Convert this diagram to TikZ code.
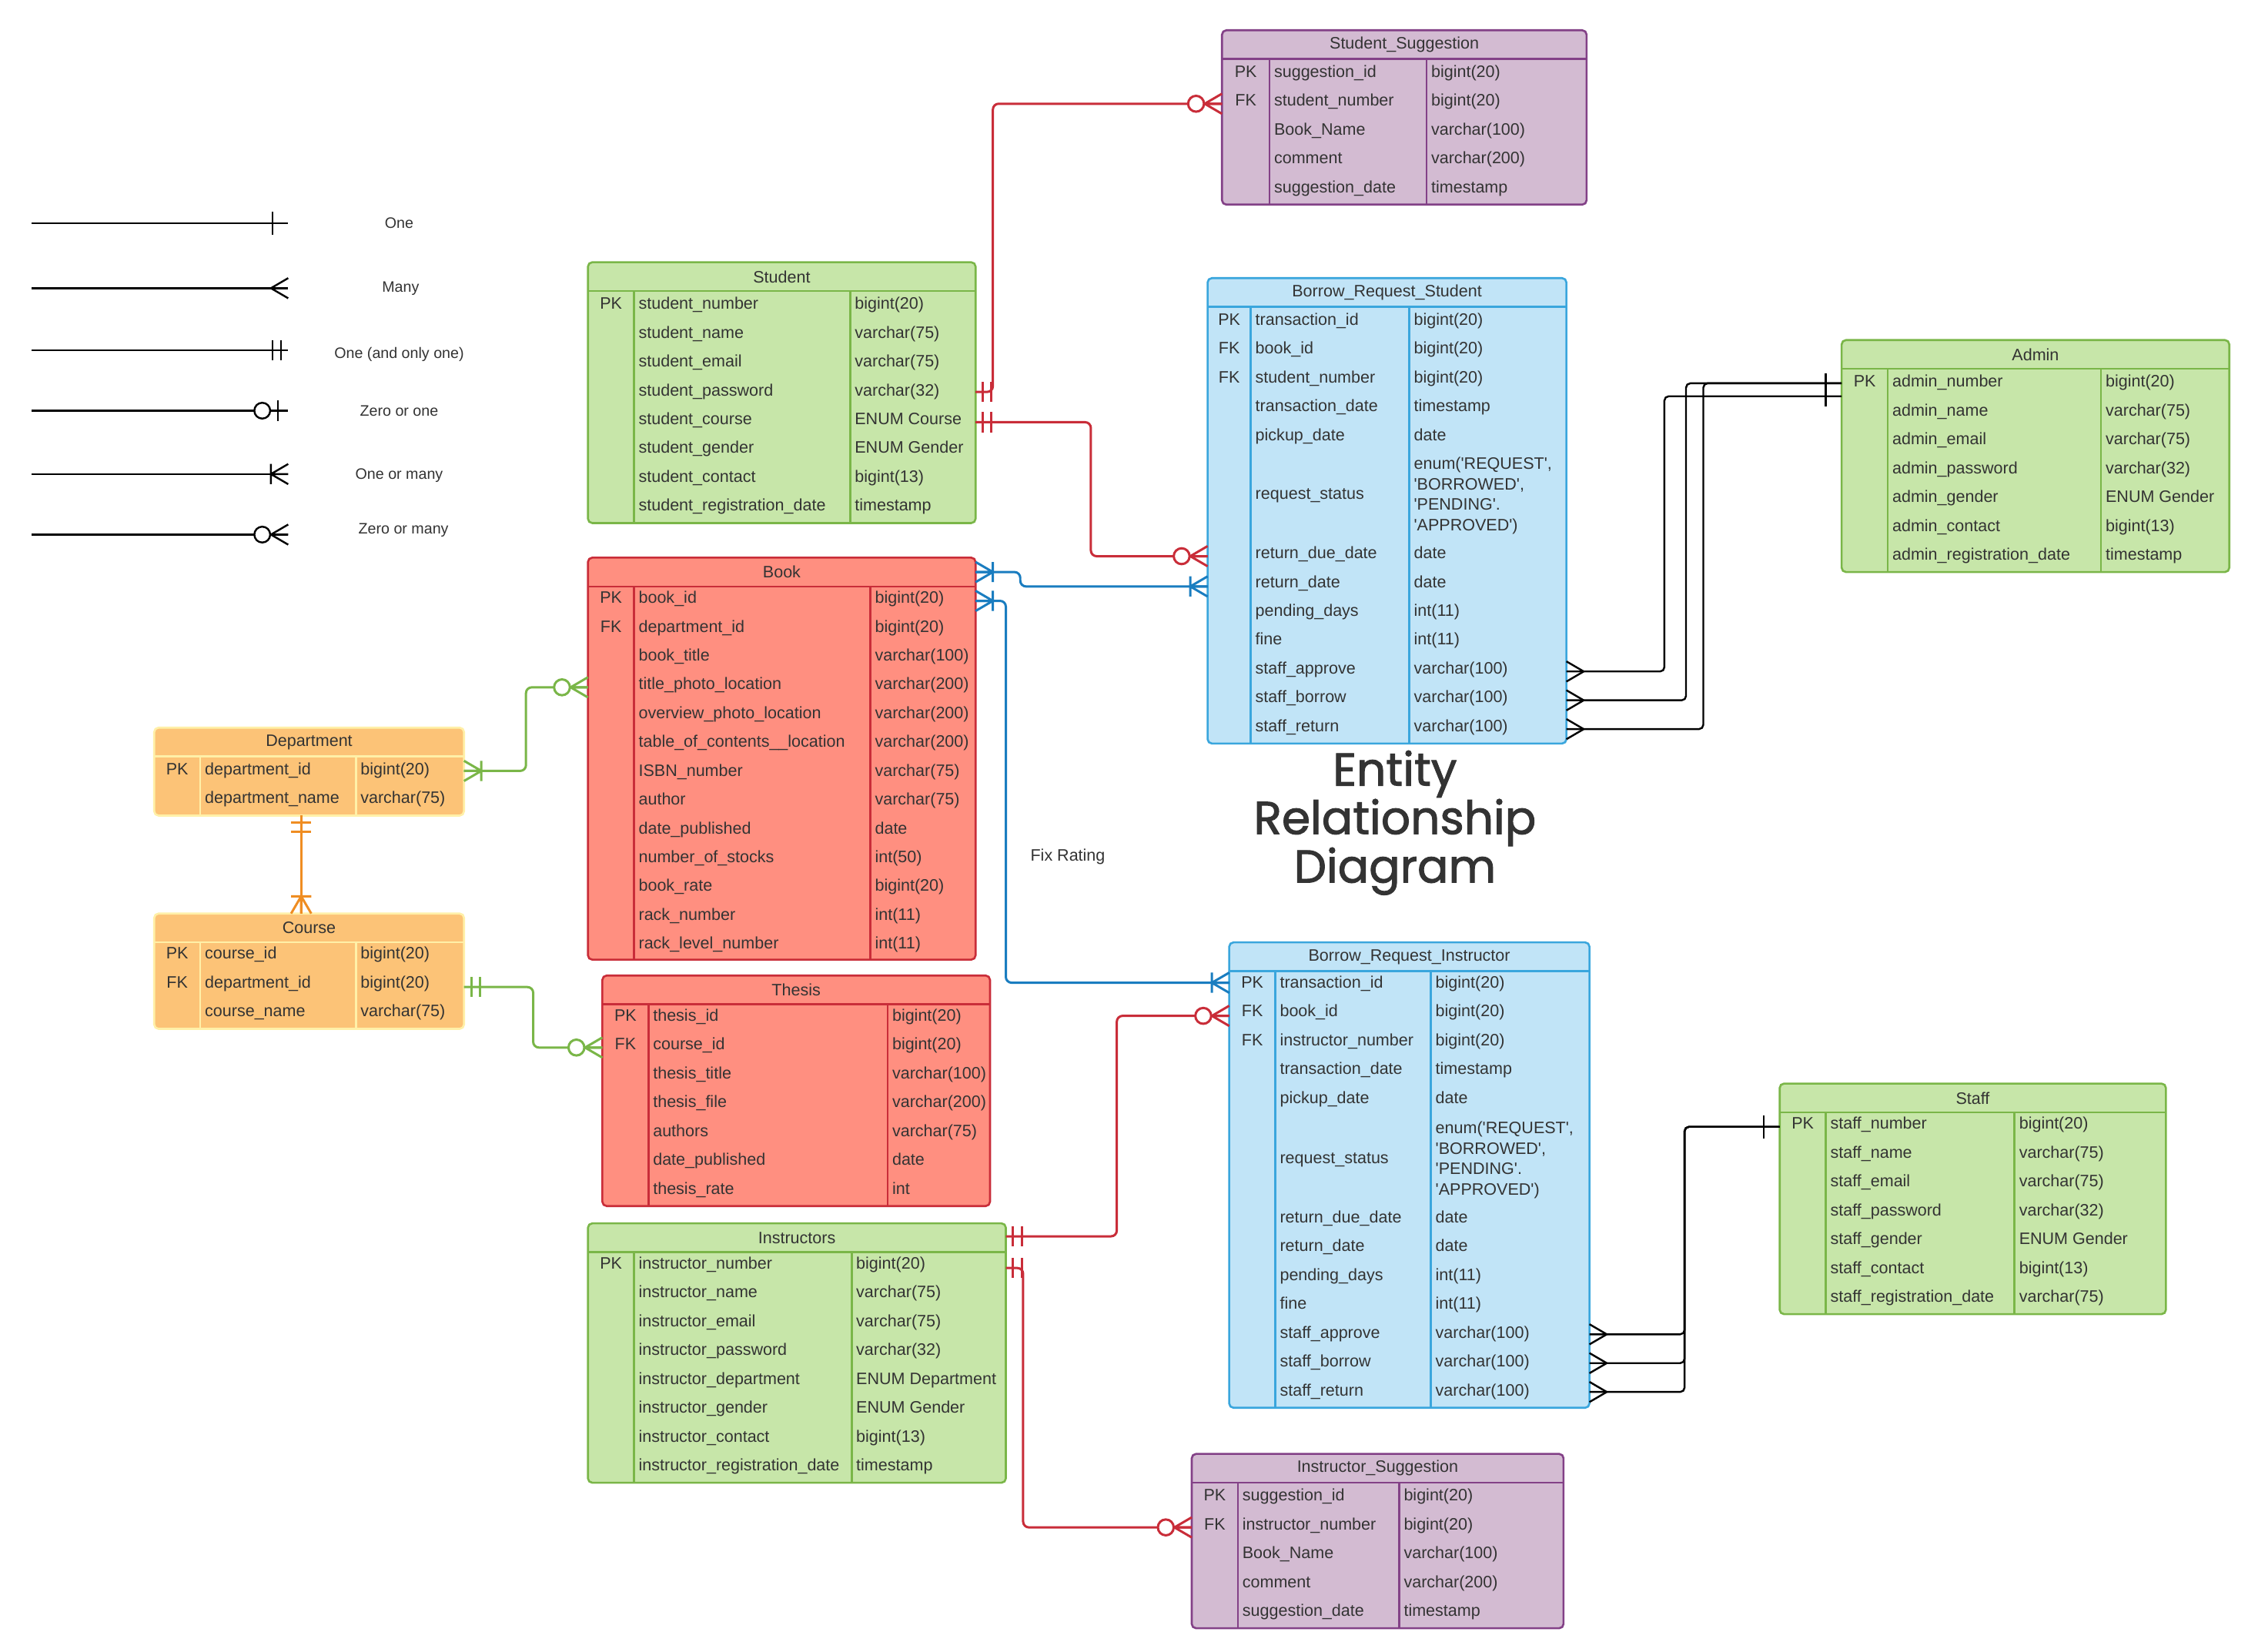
\documentclass[tikz,border=0pt]{standalone}
\usepackage{fontspec}
\setmainfont{Liberation Sans}
\newfontfamily\titlefont{Poppins}[FakeBold=1.6]
\usetikzlibrary{calc}
\definecolor{txt}{HTML}{333333}
\definecolor{gfill}{HTML}{C7E6A9}
\definecolor{gline}{HTML}{7AB648}
\definecolor{rfill}{HTML}{FF8F80}
\definecolor{rline}{HTML}{C92D39}
\definecolor{bfill}{HTML}{C1E4F7}
\definecolor{bline}{HTML}{3AA6DD}
\definecolor{pfill}{HTML}{D3BBD2}
\definecolor{pline}{HTML}{834187}
\definecolor{ofill}{HTML}{FCC377}
\definecolor{oline}{HTML}{FFF0A8}
\definecolor{bconn}{HTML}{1A7DC0}
\definecolor{oconn}{HTML}{EF8D22}
\newcounter{cellc}
\tikzset{
  tbl/.style={rectangle, rounded corners=3pt, line width=1.4pt, anchor=north west, inner sep=0pt, outer sep=0pt},
  cell/.style={font=\fontsize{11.5}{13.8}\selectfont, text=txt, inner sep=0pt, anchor=mid},
  conn/.style={line width=1.6pt, rounded corners=4pt},
  thin/.style={line width=1.3pt, rounded corners=3pt, black},
  mk/.style={line width=1.6pt},
  zmany/.pic={\filldraw[fill=white] (-18,0) circle (5.5); \draw (-12,0) -- (0,-7) (-12,0) -- (0,0) (-12,0) -- (0,7);},
  omany/.pic={\draw (-12,-7) -- (-12,7) (-12,0) -- (0,-7) (-12,0) -- (0,0) (-12,0) -- (0,7);},
  oneone/.pic={\draw (-5,-7) -- (-5,7) (-11,-7) -- (-11,7);},
  oneb/.pic={\draw (-11,-8) -- (-11,8);},
  many/.pic={\draw (-12,0) -- (0,-7) (-12,0) -- (0,7);},
  zone/.pic={\filldraw[fill=white] (-18,0) circle (5.5); \draw (-7,-7) -- (-7,7);}
}
\newcommand\ertbl[9]{%
  \node[tbl, fill=#2fill, draw=#2line, minimum width={(#5-#3)*1pt}, minimum height={(#6-#4)*1pt}] (#1) at (#3,#4) {};
  \draw[#2line, line width=1.4pt] (#3,#4+20) -- (#5,#4+20);
  \draw[#2line, line width=1.4pt] (#7,#4+20) -- (#7,#6) (#8,#4+20) -- (#8,#6);
  \node[cell, anchor=center] (#1-title) at ({(#3+#5)/2},#4+10) {#9};
  \xdef\tX{#3}\xdef\tA{#7}\xdef\tB{#8}}
\newcommand\rw[4]{%
  \stepcounter{cellc}%
  \node[cell] (k\thecellc) at ({(\tX+\tA)/2},#1) {#2};
  \node[cell, anchor=mid west] (f\thecellc) at (\tA+3,#1) {#3};
  \node[cell, anchor=mid west] (t\thecellc) at (\tB+3,#1) {#4};}
\newcommand\rwm[3]{%
  \stepcounter{cellc}%
  \node[cell, anchor=mid west] (f\thecellc) at (\tA+3,#1) {#2};
  \node[cell, anchor=west, align=left, font=\fontsize{11.5}{14.3}\selectfont] (t\thecellc) at (\tB+3,#1) {#3};}
\newcommand\q{\textquotesingle}
\begin{document}
\catcode`\_=12
\begin{tikzpicture}[x=1pt, y=-1pt]
\fill[white] (0,0) rectangle (1560,1146);
\useasboundingbox (0,0) rectangle (1560,1146);

% ---------- legend ----------
\foreach \yy/\lab/\nm in {155/One/l1, 200/Many/l2, 243/One (and only one)/l3, 285/Zero or one/l4, 329/One or many/l5, 371/Zero or many/l6}{
  \coordinate (\nm s) at (22,\yy);
  \coordinate (\nm e) at (200,\yy);
  \draw[black, line width=1.3pt] (\nm s) -- (\nm e);
}
\pic[black, line width=1.3pt] at (l1e) {oneb};
\pic[black, line width=1.3pt] at (l2e) {many};
\pic[black, line width=1.3pt] at (l3e) {oneone};
\pic[black, line width=1.3pt] at (l4e) {zone};
\pic[black, line width=1.3pt] at (l5e) {omany};
\pic[black, line width=1.3pt] at (l6e) {zmany};
\tikzset{leg/.style={font=\fontsize{10.5}{12}\selectfont, text=txt, inner sep=0pt}}
\node[leg] (lab1) at (277,155) {One};
\node[leg] (lab2) at (278,200) {Many};
\node[leg] (lab3) at (277,246) {One (and only one)};
\node[leg] (lab4) at (277,285) {Zero or one};
\node[leg] (lab5) at (277,330) {One or many};
\node[leg] (lab6) at (280,368) {Zero or many};

% ---------- tables ----------
\ertbl{ssug}{p}{848}{21}{1101}{142}{881}{990}{Student_Suggestion}
\rw{51}{PK}{suggestion_id}{bigint(20)}
\rw{71}{FK}{student_number}{bigint(20)}
\rw{91}{}{Book_Name}{varchar(100)}
\rw{111}{}{comment}{varchar(200)}
\rw{131}{}{suggestion_date}{timestamp}

\ertbl{student}{g}{408}{182}{677}{363}{440}{590}{Student}
\rw{212}{PK}{student_number}{bigint(20)}
\rw{232}{}{student_name}{varchar(75)}
\rw{252}{}{student_email}{varchar(75)}
\rw{272}{}{student_password}{varchar(32)}
\rw{292}{}{student_course}{ENUM Course}
\rw{312}{}{student_gender}{ENUM Gender}
\rw{332}{}{student_contact}{bigint(13)}
\rw{352}{}{student_registration_date}{timestamp}

\ertbl{brs}{b}{838}{193}{1087}{516}{868}{978}{Borrow_Request_Student}
\rw{223}{PK}{transaction_id}{bigint(20)}
\rw{243}{FK}{book_id}{bigint(20)}
\rw{263}{FK}{student_number}{bigint(20)}
\rw{283}{}{transaction_date}{timestamp}
\rw{303}{}{pickup_date}{date}
\rwm{344}{request_status}{enum(\q REQUEST\q,\\\q BORROWED\q,\\\q PENDING\q.\\\q APPROVED\q)}
\rw{385}{}{return_due_date}{date}
\rw{405}{}{return_date}{date}
\rw{425}{}{pending_days}{int(11)}
\rw{445}{}{fine}{int(11)}
\rw{465}{}{staff_approve}{varchar(100)}
\rw{485}{}{staff_borrow}{varchar(100)}
\rw{505}{}{staff_return}{varchar(100)}

\ertbl{admin}{g}{1278}{236}{1547}{397}{1310}{1458}{Admin}
\rw{266}{PK}{admin_number}{bigint(20)}
\rw{286}{}{admin_name}{varchar(75)}
\rw{306}{}{admin_email}{varchar(75)}
\rw{326}{}{admin_password}{varchar(32)}
\rw{346}{}{admin_gender}{ENUM Gender}
\rw{366}{}{admin_contact}{bigint(13)}
\rw{386}{}{admin_registration_date}{timestamp}

\ertbl{book}{r}{408}{387}{677}{666}{440}{604}{Book}
\rw{416}{PK}{book_id}{bigint(20)}
\rw{436}{FK}{department_id}{bigint(20)}
\rw{456}{}{book_title}{varchar(100)}
\rw{476}{}{title_photo_location}{varchar(200)}
\rw{496}{}{overview_photo_location}{varchar(200)}
\rw{516}{}{table_of_contents__location}{varchar(200)}
\rw{536}{}{ISBN_number}{varchar(75)}
\rw{556}{}{author}{varchar(75)}
\rw{576}{}{date_published}{date}
\rw{596}{}{number_of_stocks}{int(50)}
\rw{616}{}{book_rate}{bigint(20)}
\rw{636}{}{rack_number}{int(11)}
\rw{656}{}{rack_level_number}{int(11)}

\ertbl{dept}{o}{107}{505}{322}{566}{139}{247}{Department}
\rw{535}{PK}{department_id}{bigint(20)}
\rw{555}{}{department_name}{varchar(75)}

\ertbl{course}{o}{107}{634}{322}{714}{139}{247}{Course}
\rw{663}{PK}{course_id}{bigint(20)}
\rw{683}{FK}{department_id}{bigint(20)}
\rw{703}{}{course_name}{varchar(75)}

\ertbl{thesis}{r}{418}{677}{687}{837}{450}{616}{Thesis}
\rw{706}{PK}{thesis_id}{bigint(20)}
\rw{726}{FK}{course_id}{bigint(20)}
\rw{746}{}{thesis_title}{varchar(100)}
\rw{766}{}{thesis_file}{varchar(200)}
\rw{786}{}{authors}{varchar(75)}
\rw{806}{}{date_published}{date}
\rw{826}{}{thesis_rate}{int}

\ertbl{instr}{g}{408}{849}{698}{1029}{440}{591}{Instructors}
\rw{878}{PK}{instructor_number}{bigint(20)}
\rw{898}{}{instructor_name}{varchar(75)}
\rw{918}{}{instructor_email}{varchar(75)}
\rw{938}{}{instructor_password}{varchar(32)}
\rw{958}{}{instructor_department}{ENUM Department}
\rw{978}{}{instructor_gender}{ENUM Gender}
\rw{998}{}{instructor_contact}{bigint(13)}
\rw{1018}{}{instructor_registration_date}{timestamp}

\ertbl{bri}{b}{853}{654}{1103}{977}{885}{993}{Borrow_Request_Instructor}
\rw{683}{PK}{transaction_id}{bigint(20)}
\rw{703}{FK}{book_id}{bigint(20)}
\rw{723}{FK}{instructor_number}{bigint(20)}
\rw{743}{}{transaction_date}{timestamp}
\rw{763}{}{pickup_date}{date}
\rwm{805}{request_status}{enum(\q REQUEST\q,\\\q BORROWED\q,\\\q PENDING\q.\\\q APPROVED\q)}
\rw{846}{}{return_due_date}{date}
\rw{866}{}{return_date}{date}
\rw{886}{}{pending_days}{int(11)}
\rw{906}{}{fine}{int(11)}
\rw{926}{}{staff_approve}{varchar(100)}
\rw{946}{}{staff_borrow}{varchar(100)}
\rw{966}{}{staff_return}{varchar(100)}

\ertbl{staff}{g}{1235}{752}{1503}{912}{1267}{1398}{Staff}
\rw{781}{PK}{staff_number}{bigint(20)}
\rw{801}{}{staff_name}{varchar(75)}
\rw{821}{}{staff_email}{varchar(75)}
\rw{841}{}{staff_password}{varchar(32)}
\rw{861}{}{staff_gender}{ENUM Gender}
\rw{881}{}{staff_contact}{bigint(13)}
\rw{901}{}{staff_registration_date}{varchar(75)}

\ertbl{isug}{p}{827}{1009}{1085}{1130}{859}{971}{Instructor_Suggestion}
\rw{1039}{PK}{suggestion_id}{bigint(20)}
\rw{1059}{FK}{instructor_number}{bigint(20)}
\rw{1079}{}{Book_Name}{varchar(100)}
\rw{1099}{}{comment}{varchar(200)}
\rw{1119}{}{suggestion_date}{timestamp}

% ---------- title and note ----------
\node[font=\titlefont\fontsize{32}{29.5}\selectfont, text=txt, align=center, inner sep=0pt] (title) at (968,571) {Entity\\Relationship\\Diagram};
\node[cell] (fixrating) at (741,595) {Fix Rating};

% ---------- connectors ----------
% Student - Student_Suggestion
\draw[conn, rline] (student.east |- 0,272) -| (689,72) -- (ssug.west |- 0,72);
\pic[rline, mk, xscale=-1] at (student.east |- 0,272) {oneone};
\pic[rline, mk] at (ssug.west |- 0,72) {zmany};
% Student - Borrow_Request_Student
\draw[conn, rline] (student.east |- 0,293) -| (757,386) -- (brs.west |- 0,386);
\pic[rline, mk, xscale=-1] at (student.east |- 0,293) {oneone};
\pic[rline, mk] at (brs.west |- 0,386) {zmany};
% Book - Borrow_Request_Student
\draw[conn, bconn] (book.east |- 0,397) -| (708,407) -- (brs.west |- 0,407);
\pic[bconn, mk, xscale=-1] at (book.east |- 0,397) {omany};
\pic[bconn, mk] at (brs.west |- 0,407) {omany};
% Book - Borrow_Request_Instructor
\draw[conn, bconn] (book.east |- 0,417) -| (698,682) -- (bri.west |- 0,682);
\pic[bconn, mk, xscale=-1] at (book.east |- 0,417) {omany};
\pic[bconn, mk] at (bri.west |- 0,682) {omany};
% Department - Book
\draw[conn, gline] (dept.east |- 0,535) -| (365,477) -- (book.west |- 0,477);
\pic[gline, mk, xscale=-1] at (dept.east |- 0,535) {omany};
\pic[gline, mk] at (book.west |- 0,477) {zmany};
% Department - Course
\draw[conn, oconn] (dept.south -| 209,0) -- (course.north -| 209,0);
\pic[oconn, mk, rotate=90] at (dept.south -| 209,0) {oneone};
\pic[oconn, mk, rotate=-90] at (course.north -| 209,0) {omany};
% Course - Thesis
\draw[conn, gline] (course.east |- 0,685) -| (370,727) -- (thesis.west |- 0,727);
\pic[gline, mk, xscale=-1] at (course.east |- 0,685) {oneone};
\pic[gline, mk] at (thesis.west |- 0,727) {zmany};
% Instructors - Borrow_Request_Instructor
\draw[conn, rline] (instr.east |- 0,858) -| (775,705) -- (bri.west |- 0,705);
\pic[rline, mk, xscale=-1] at (instr.east |- 0,858) {oneone};
\pic[rline, mk] at (bri.west |- 0,705) {zmany};
% Instructors - Instructor_Suggestion
\draw[conn, rline] (instr.east |- 0,880) -| (710,1060) -- (isug.west |- 0,1060);
\pic[rline, mk, xscale=-1] at (instr.east |- 0,880) {oneone};
\pic[rline, mk] at (isug.west |- 0,1060) {zmany};
% Admin - Borrow_Request_Student
\draw[thin] (admin.west |- 0,275) -| (1155,466) -- (brs.east |- 0,466);
\draw[thin] (admin.west |- 0,266) -| (1170,486) -- (brs.east |- 0,486);
\draw[thin] (admin.west |- 0,266) -| (1182,506) -- (brs.east |- 0,506);
\coordinate (admbar) at (admin.west |- 0,270);
\draw[black, line width=1.3pt] ([shift={(-11,-11)}]admbar) -- ([shift={(-11,12)}]admbar);
\foreach \yy in {466,486,506}{
  \pic[black, line width=1.3pt, xscale=-1] at (brs.east |- 0,\yy) {many};
}
% Staff - Borrow_Request_Instructor
\draw[thin] (staff.west |- 0,782) -| (1169,926) -- (bri.east |- 0,926);
\draw[thin] (staff.west |- 0,782) -| (1169,946) -- (bri.east |- 0,946);
\draw[thin] (staff.west |- 0,782) -| (1169,966) -- (bri.east |- 0,966);
\pic[black, line width=1.3pt] at (staff.west |- 0,782) {oneb};
\foreach \yy in {926,946,966}{
  \pic[black, line width=1.3pt, xscale=-1] at (bri.east |- 0,\yy) {many};
}
\end{tikzpicture}
\end{document}
